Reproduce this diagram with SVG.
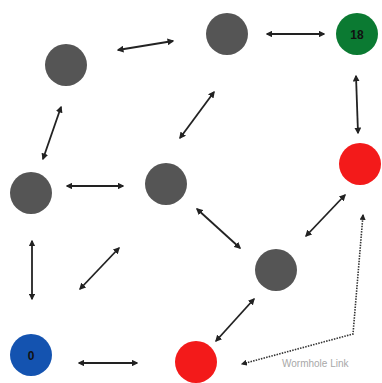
<svg xmlns="http://www.w3.org/2000/svg" width="382" height="383" viewBox="0 0 382 383">
  <style>
    .node { stroke: none; }
    .gray { fill: #555555; }
    .red { fill: #f31a1a; }
    .green { fill: #0b7a32; }
    .blue { fill: #1453b0; }
    .link { stroke: #222222; stroke-width: 1.8; fill: none; marker-start: url(#head); marker-end: url(#head); }
    .worm { stroke: #333333; stroke-width: 1.6; stroke-dasharray: 1.5 1.2; fill: none; marker-start: url(#head); marker-end: url(#head); }
    .num { font-family: "Liberation Sans", Arial, sans-serif; font-weight: bold; font-size: 12px; fill: #111111; text-anchor: middle; }
    .note { font-family: "Liberation Sans", Arial, sans-serif; font-size: 10px; fill: #a8a8a8; }
  </style>
  <defs>
    <marker id="head" viewBox="0 0 10 10" refX="8" refY="5" markerWidth="3.8" markerHeight="3.8" orient="auto-start-reverse">
      <path d="M0,0 L10,5 L0,10 z" fill="#222222"/>
    </marker>
  </defs>
  <rect width="382" height="383" fill="#ffffff"/>

  <g id="connectors">
    <line class="link" x1="118" y1="50" x2="173" y2="41"/>
    <line class="link" x1="267" y1="34" x2="324" y2="34"/>
    <line class="link" x1="356" y1="76" x2="358" y2="133"/>
    <line class="link" x1="61" y1="107" x2="43" y2="159"/>
    <line class="link" x1="180" y1="138" x2="214" y2="92"/>
    <line class="link" x1="67" y1="186" x2="123" y2="186"/>
    <line class="link" x1="32" y1="241" x2="32" y2="299"/>
    <line class="link" x1="119" y1="248" x2="80" y2="289"/>
    <line class="link" x1="79" y1="363" x2="137" y2="363"/>
    <line class="link" x1="197" y1="209" x2="240" y2="248"/>
    <line class="link" x1="306" y1="236" x2="345" y2="195"/>
    <line class="link" x1="216" y1="341" x2="254" y2="299"/>
    <polyline class="worm" points="363,215 353,334 242,364"/>
  </g>

  <g id="n1"><circle class="node gray" cx="66" cy="65" r="21"/></g>
  <g id="n2"><circle class="node gray" cx="227" cy="34" r="21"/></g>
  <g id="n18"><circle class="node green" cx="357" cy="34" r="21"/><text class="num" x="357" y="38.5">18</text></g>
  <g id="n3"><circle class="node red" cx="360" cy="164" r="21"/></g>
  <g id="n4"><circle class="node gray" cx="31" cy="193" r="21"/></g>
  <g id="n5"><circle class="node gray" cx="166" cy="184" r="21"/></g>
  <g id="n6"><circle class="node gray" cx="276" cy="270" r="21"/></g>
  <g id="n0"><circle class="node blue" cx="31" cy="355" r="21"/><text class="num" x="31" y="359.5">0</text></g>
  <g id="n7"><circle class="node red" cx="196" cy="362" r="21"/></g>

  <text class="note" x="282" y="367">Wormhole Link</text>
</svg>
